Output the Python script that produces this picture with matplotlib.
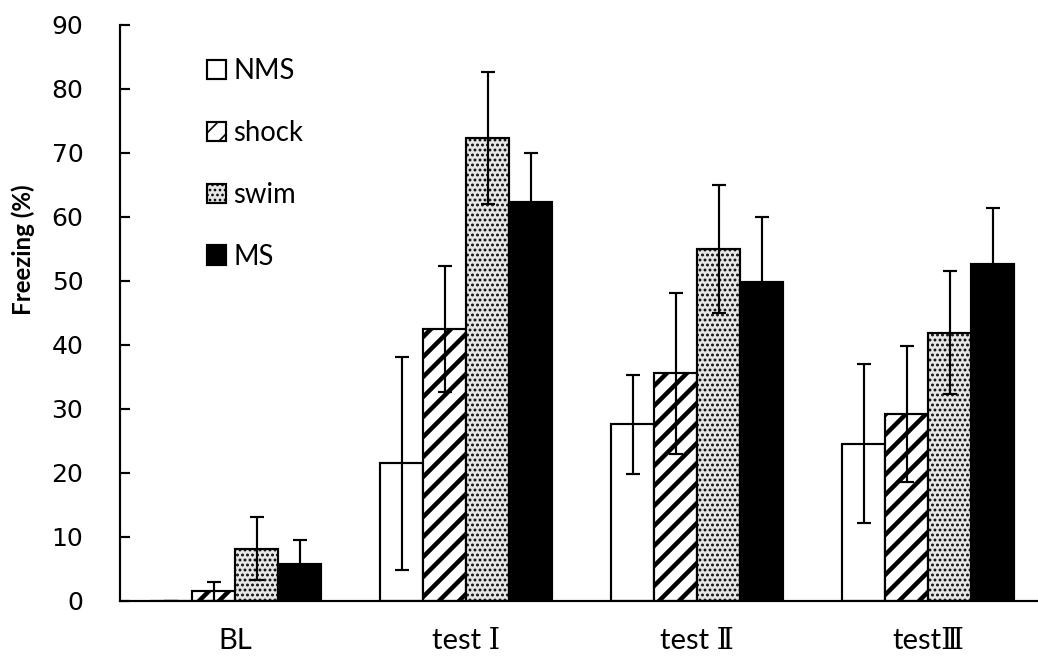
import matplotlib
matplotlib.use('Agg')
import matplotlib.pyplot as plt
import numpy as np

# data
groups = ['BL', 'test Ⅰ', 'test Ⅱ', 'testⅢ']
series = ['NMS', 'shock', 'swim', 'MS']
nms = [0.0, 21.5, 27.6, 24.6]
nms_err = [0.0, 16.7, 7.7, 12.4]
shock = [1.5, 42.5, 35.6, 29.2]
shock_err = [1.5, 9.9, 12.6, 10.6]
swim = [8.2, 72.3, 55.0, 41.9]
swim_err = [4.9, 10.3, 10.0, 9.6]
ms = [5.8, 62.3, 49.8, 52.6]
ms_err = [3.7, 7.7, 10.2, 8.8]

values = [nms, shock, swim, ms]
errors = [nms_err, shock_err, swim_err, ms_err]
faces = ['white', 'white', '#e6e6e6', 'black']
hatches = [None, '//', '....', None]
hatch_lw = [1.0, 2.7, 1.1, 1.0]

DPI = 120
fig = plt.figure(figsize=(1038 / DPI, 657 / DPI), dpi=DPI)
ax = fig.add_axes([120 / 1038, 56 / 657, 1 - 120 / 1038, (601 - 25) / 657])

x = np.arange(len(groups))
w = 0.186
for i, (vals, errs) in enumerate(zip(values, errors)):
    plt.rcParams['hatch.linewidth'] = hatch_lw[i]
    bars = ax.bar(x + (i - 1.5) * w, vals, w, color=faces[i], edgecolor='black',
                  linewidth=1.3, hatch=hatches[i], label=series[i], zorder=2)
    for b in bars:
        if hasattr(b, 'set_hatch_linewidth'):
            b.set_hatch_linewidth(hatch_lw[i])
    ax.errorbar(x + (i - 1.5) * w, vals, yerr=errs, fmt='none', ecolor='black',
                elinewidth=1.3, capsize=4, capthick=1.3, zorder=3)

ax.set_xlim(-0.5, 3.476)
ax.set_ylim(0, 90)
ax.set_yticks(range(0, 91, 10))
ax.set_xticks(x)
ax.set_xticklabels(groups, family=['Lato', 'DejaVu Serif', 'Noto Sans CJK JP'], fontsize=17.5)
ax.tick_params(axis='x', length=0, pad=16)
ax.tick_params(axis='y', direction='in', length=6, width=1.3, pad=22, labelsize=15)
for lab in ax.get_yticklabels():
    lab.set_family('DejaVu Sans')

for s in ['top', 'right']:
    ax.spines[s].set_visible(False)
ax.spines['left'].set_linewidth(1.3)
ax.spines['bottom'].set_linewidth(1.3)

fig.text(23 / 1038, 1 - 250 / 657, 'Freezing (%)', rotation=90, ha='center', va='center',
         fontsize=14.5, fontweight='bold', family='Lato')

leg = ax.legend(loc='upper left', bbox_to_anchor=(0.068, 0.985), frameon=False,
                prop={'family': 'Lato', 'size': 16.5}, handlelength=0.7, handleheight=0.7,
                handletextpad=0.25, labelspacing=1.3)

fig.savefig('out.png', dpi=DPI)
